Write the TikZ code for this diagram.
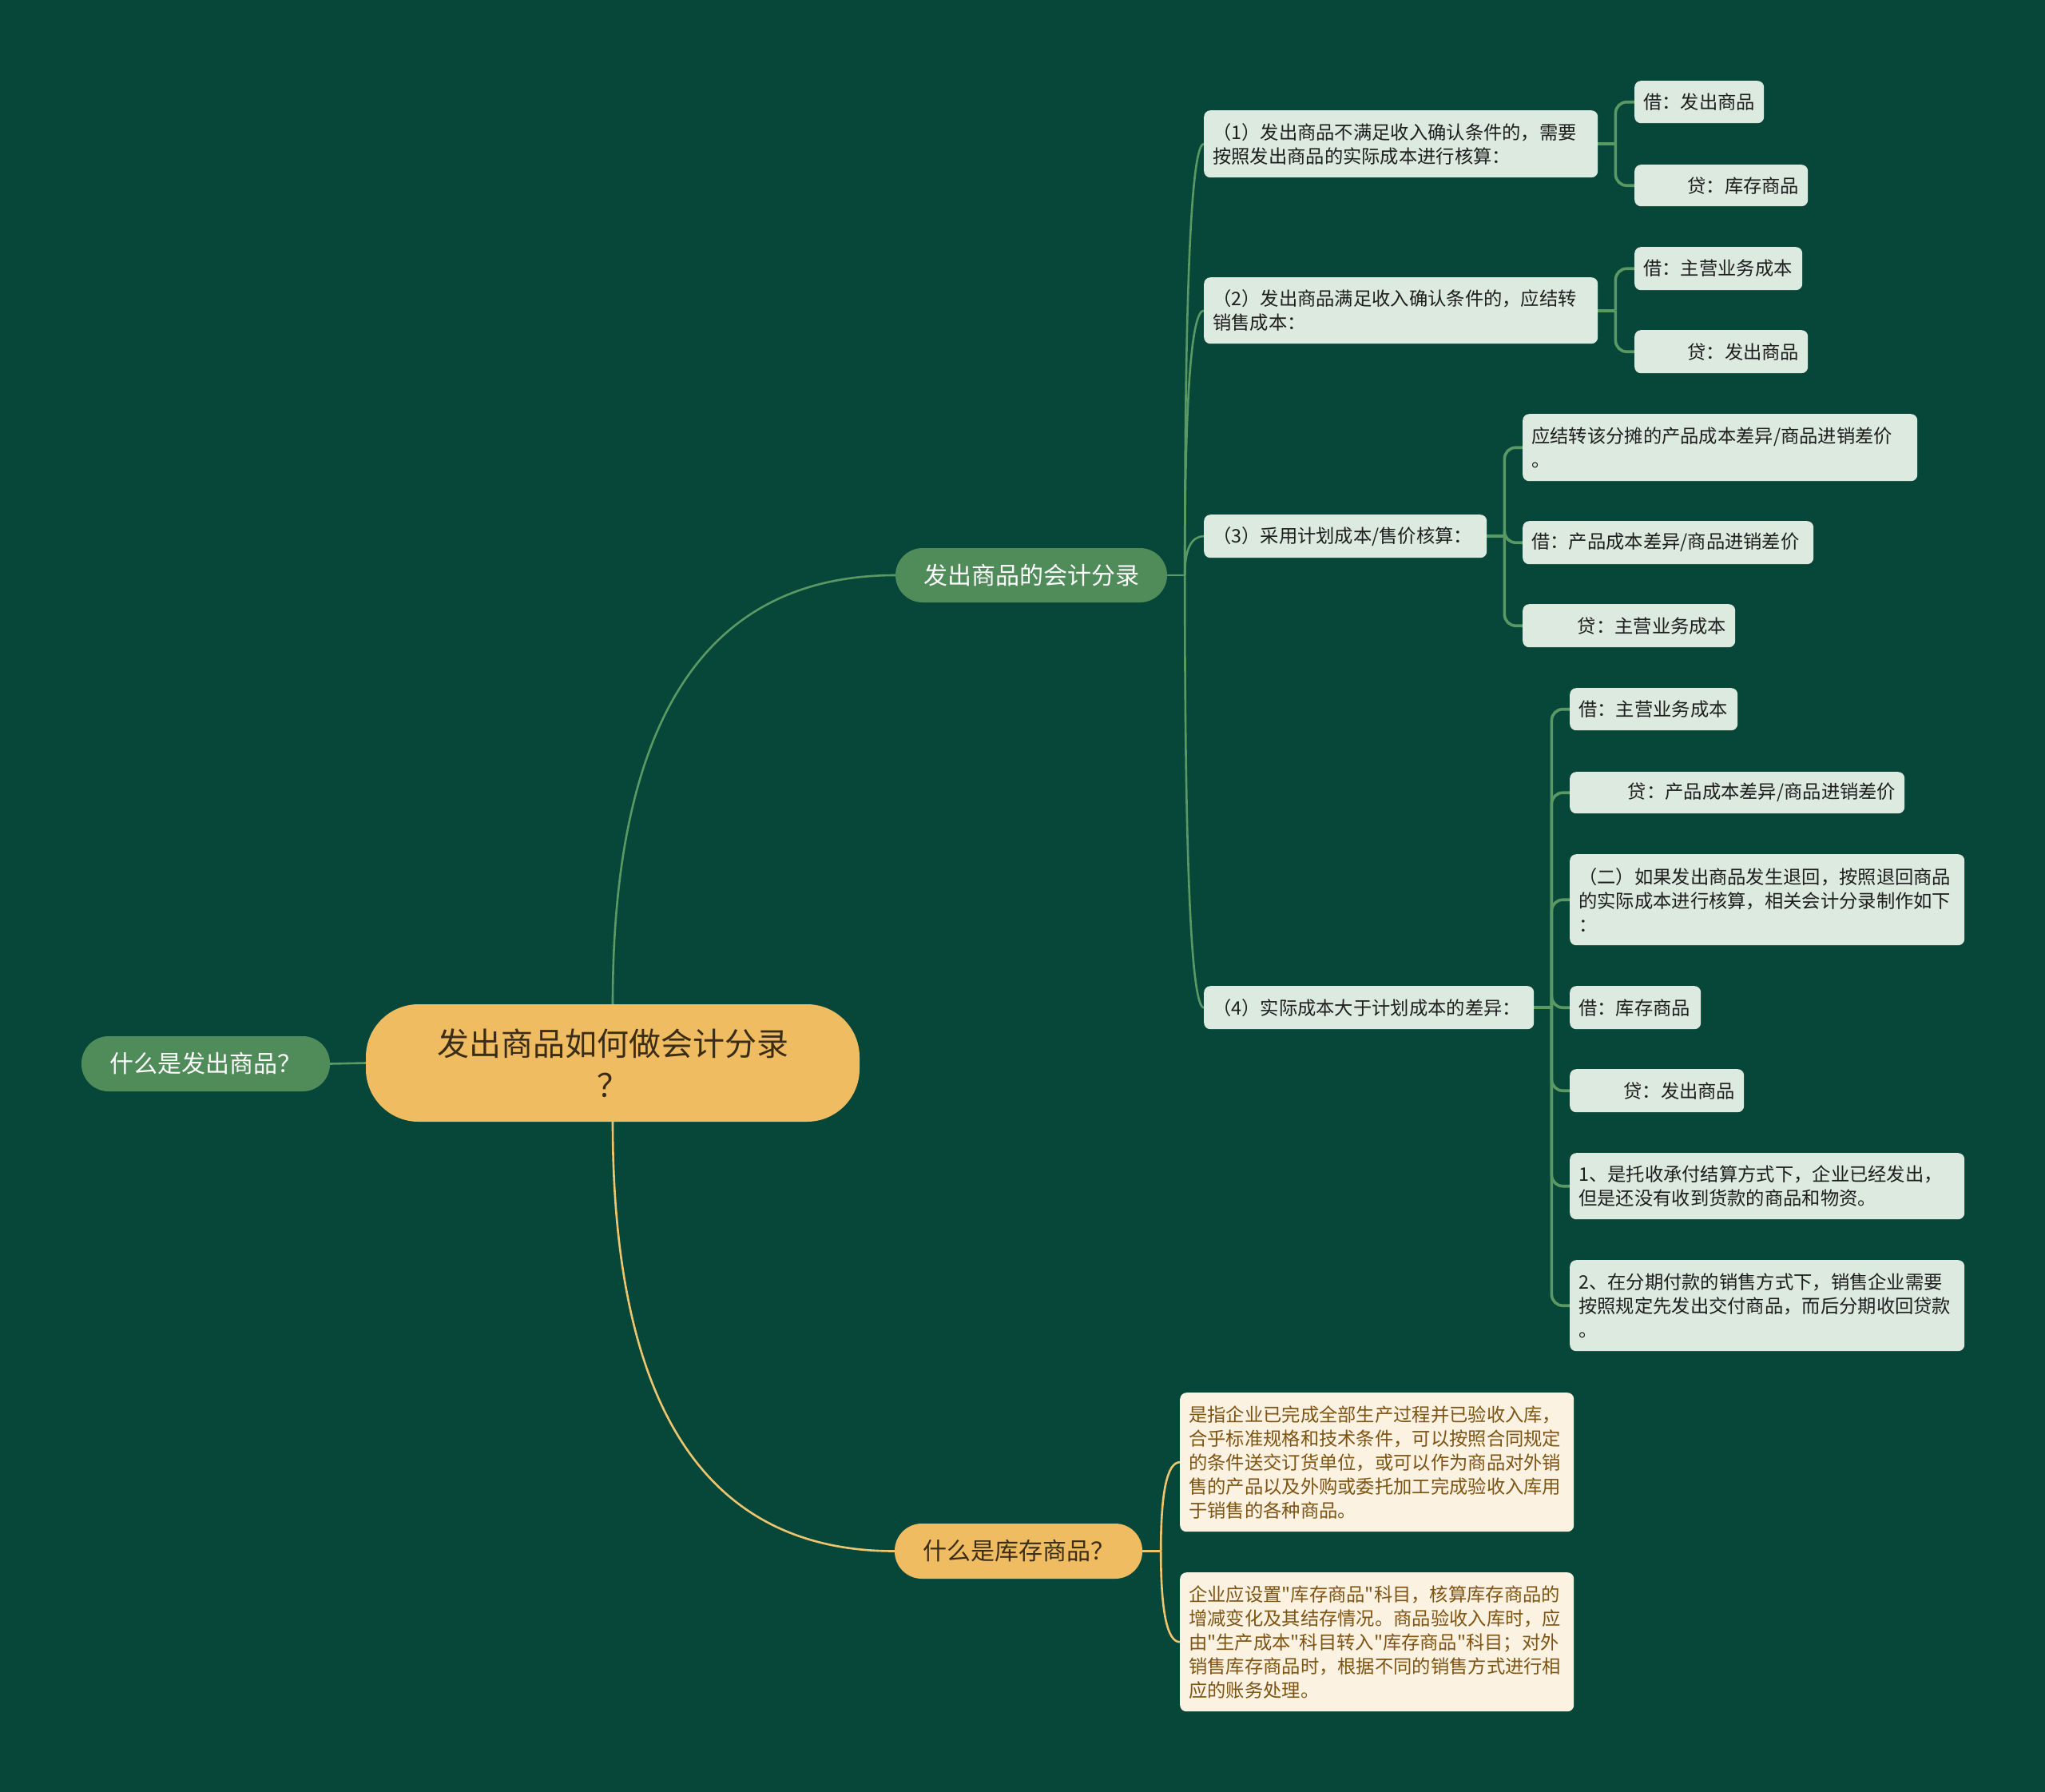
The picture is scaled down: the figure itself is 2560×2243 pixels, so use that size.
\documentclass[tikz,border=0pt]{standalone}
\usepackage{fontspec}
\setmainfont{Noto Sans CJK SC}[Ligatures=TeXOff]
\usetikzlibrary{calc}
\pgfdeclarelayer{bglayer}
\pgfsetlayers{bglayer,main}
\definecolor{bgc}{HTML}{07473A}
\definecolor{gnode}{HTML}{508C59}
\definecolor{lbfill}{HTML}{DDEADF}
\definecolor{gline}{HTML}{5A9864}
\definecolor{ynode}{HTML}{F0BC62}
\definecolor{yline}{HTML}{EDC56E}
\definecolor{cream}{HTML}{FCF2E2}
\definecolor{brownt}{HTML}{7E5413}
\definecolor{dtext}{HTML}{1E1E1E}
\definecolor{rtext}{HTML}{3A2C17}
\tikzset{
  lbox/.style={fill=lbfill, rounded corners=8pt, inner xsep=11pt, inner ysep=0pt,
    anchor=north west, align=left, text=dtext, font=\fontsize{23.3}{30}\selectfont},
  rbox/.style={lbox, align=right},
  cbox/.style={lbox, fill=cream, text=brownt},
  gpill/.style={fill=gnode, text=white, rounded corners=34pt, inner sep=0pt,
    font=\fontsize{30}{36}\selectfont},
  ypill/.style={gpill, fill=ynode, text=rtext},
  rootbox/.style={fill=ynode, text=rtext, rounded corners=66pt, inner sep=0pt,
    align=center, font=\fontsize{40}{52}\selectfont},
  gcon/.style={draw=gline, line width=2.6pt},
  gcon2/.style={draw=gline, line width=3.6pt, rounded corners=14pt},
  ycon/.style={draw=yline, line width=2.6pt},
}
\newcommand\qcon[3]{\draw[#1] (#2) .. controls ($(#2)!0.6667!(#2 |- #3)$) and ($(#3)!0.6667!(#2 |- #3)$) .. (#3);}
\begin{document}
\begin{tikzpicture}[x=1pt,y=-1pt]
\begin{pgfonlayer}{bglayer}
\fill[bgc] (0,0) rectangle (2560,2243);
\end{pgfonlayer}
\useasboundingbox (0,0) rectangle (2560,2243);

% root and level 1
\node[rootbox, minimum width=618pt, minimum height=147pt] (root) at (767,1330.5) {发出商品如何做会计分录\\？};
\node[gpill, minimum width=311pt, minimum height=69pt] (what) at (257.5,1331.5) {什么是发出商品？};
\node[gpill, minimum width=340pt, minimum height=68pt] (acc) at (1291,720) {发出商品的会计分录};
\node[ypill, minimum width=310pt, minimum height=69pt] (inv) at (1275,1941.5) {什么是库存商品？};

% level 2
\node[lbox, text width=471pt, minimum height=84pt] (p1) at (1507,138) {（1）发出商品不满足收入确认条件的，需要\\按照发出商品的实际成本进行核算：};
\node[lbox, text width=471pt, minimum height=83pt] (p2) at (1507,347) {（2）发出商品满足收入确认条件的，应结转\\销售成本：};
\node[lbox, text width=332pt, minimum height=54pt] (p3) at (1507,644) {（3）采用计划成本/售价核算：};
\node[lbox, text width=391pt, minimum height=54pt] (p4) at (1507,1234) {（4）实际成本大于计划成本的差异：};

% level 3
\node[lbox, text width=140pt, minimum height=53pt] (a1) at (2046,101) {借：发出商品};
\node[rbox, text width=195pt, minimum height=52pt] (a2) at (2046,206) {贷：库存商品};
\node[lbox, text width=188pt, minimum height=54pt] (b1) at (2046,309) {借：主营业务成本};
\node[rbox, text width=195pt, minimum height=54pt] (b2) at (2046,413) {贷：发出商品};
\node[lbox, text width=472pt, minimum height=84pt] (c1) at (1906,518) {应结转该分摊的产品成本差异/商品进销差价\\。};
\node[lbox, text width=342pt, minimum height=54pt] (c2) at (1906,652) {借：产品成本差异/商品进销差价};
\node[rbox, text width=244pt, minimum height=54pt] (c3) at (1906,756) {贷：主营业务成本};
\node[lbox, text width=188pt, minimum height=53pt] (d1) at (1965,861) {借：主营业务成本};
\node[rbox, text width=397pt, minimum height=52pt] (d2) at (1965,966) {贷：产品成本差异/商品进销差价};
\node[lbox, text width=472pt, minimum height=114pt] (d3) at (1965,1069) {（二）如果发出商品发生退回，按照退回商品\\的实际成本进行核算，相关会计分录制作如下\\：};
\node[lbox, text width=142pt, minimum height=54pt] (d4) at (1965,1234) {借：库存商品};
\node[rbox, text width=196pt, minimum height=54pt] (d5) at (1965,1338) {贷：发出商品};
\node[lbox, text width=472pt, minimum height=83pt] (d6) at (1965,1443) {1、是托收承付结算方式下，企业已经发出，\\但是还没有收到货款的商品和物资。};
\node[lbox, text width=472pt, minimum height=114pt] (d7) at (1965,1577) {2、在分期付款的销售方式下，销售企业需要\\按照规定先发出交付商品，而后分期收回贷款\\。};

% inventory children
\node[cbox, text width=471pt, minimum height=174pt] (e1) at (1477,1743) {是指企业已完成全部生产过程并已验收入库，\\合乎标准规格和技术条件，可以按照合同规定\\的条件送交订货单位，或可以作为商品对外销\\售的产品以及外购或委托加工完成验收入库用\\于销售的各种商品。};
\node[cbox, text width=471pt, minimum height=174pt] (e2) at (1477,1968) {企业应设置"库存商品"科目，核算库存商品的\\增减变化及其结存情况。商品验收入库时，应\\由"生产成本"科目转入"库存商品"科目；对外\\销售库存商品时，根据不同的销售方式进行相\\应的账务处理。};

% spine coordinates
\coordinate (sA) at ($(acc.east)+(22,0)$);
\coordinate (s1) at ($(p1.east)+(22,0)$);
\coordinate (s2) at ($(p2.east)+(22,0)$);
\coordinate (s3) at ($(p3.east)+(22,0)$);
\coordinate (s4) at ($(p4.east)+(22,0)$);
\coordinate (sI) at ($(inv.east)+(23,0)$);

\begin{pgfonlayer}{bglayer}
% root connectors
\draw[gcon] (root.west) -- (what.east);
\qcon{gcon}{root.north}{acc.west}
\qcon{ycon}{root.south}{inv.west}
% accounting branch
\draw[gcon] (acc.east) -- (sA);
\qcon{gcon}{sA}{p1.west}
\qcon{gcon}{sA}{p2.west}
\qcon{gcon}{sA}{p3.west}
\qcon{gcon}{sA}{p4.west}
% level 2 to level 3
\draw[gcon2] (p1.east) -- (s1);
\draw[gcon2] (s1) |- (a1.west);
\draw[gcon2] (s1) |- (a2.west);
\draw[gcon2] (p2.east) -- (s2);
\draw[gcon2] (s2) |- (b1.west);
\draw[gcon2] (s2) |- (b2.west);
\draw[gcon2] (p3.east) -- (s3);
\draw[gcon2] (s3) |- (c1.west);
\draw[gcon2] (s3) |- (c2.west);
\draw[gcon2] (s3) |- (c3.west);
\draw[gcon2] (p4.east) -- (s4);
\draw[gcon2] (s4) |- (d1.west);
\draw[gcon2] (s4) |- (d2.west);
\draw[gcon2] (s4) |- (d3.west);
\draw[gcon2] (s4) |- (d4.west);
\draw[gcon2] (s4) |- (d5.west);
\draw[gcon2] (s4) |- (d6.west);
\draw[gcon2] (s4) |- (d7.west);
% inventory branch
\draw[ycon] (inv.east) -- (sI);
\qcon{ycon}{sI}{e1.west}
\qcon{ycon}{sI}{e2.west}
\end{pgfonlayer}
\end{tikzpicture}
\end{document}
